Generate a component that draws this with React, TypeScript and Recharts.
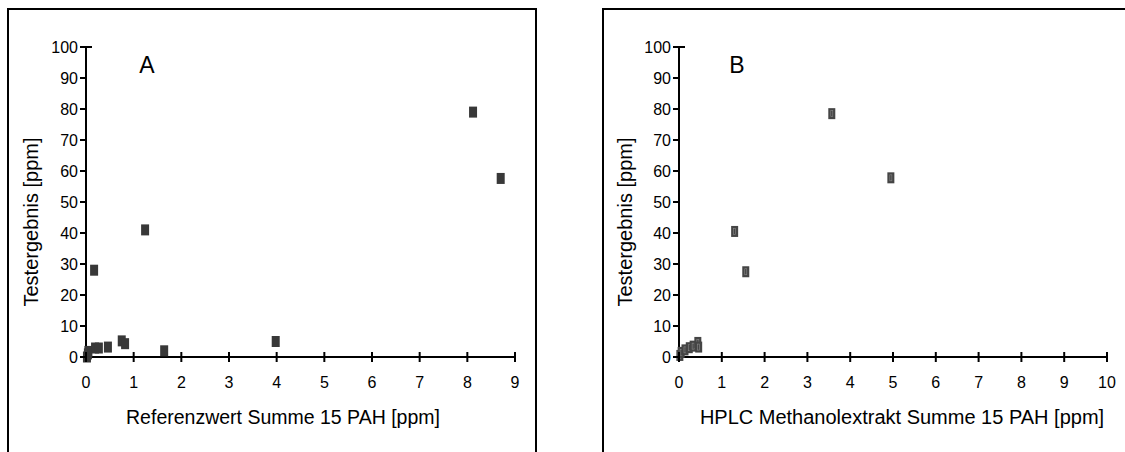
import { ScatterChart, Scatter, XAxis, YAxis } from 'recharts';

// Panel A: Referenzwert vs Testergebnis
const refX = [0.02, 0.04, 0.05, 0.19, 0.27, 0.46, 0.75, 0.82, 1.64, 3.98, 0.17, 1.24, 8.12, 8.7];
const refY = [0, 1.0, 1.8, 2.9, 2.9, 3.2, 5.2, 4.3, 2.0, 5.0, 28, 41, 79, 57.6];

// Panel B: HPLC Methanolextrakt vs Testergebnis
const hplcX = [0.02, 0.05, 0.14, 0.24, 0.33, 0.44, 0.46, 1.3, 1.56, 3.57, 4.95];
const hplcY = [0.5, 1.5, 2.3, 3.0, 3.5, 4.7, 3.2, 40.5, 27.5, 78.5, 57.8];

const yTicks = [0, 10, 20, 30, 40, 50, 60, 70, 80, 90, 100];
const xTicksA = [0, 1, 2, 3, 4, 5, 6, 7, 8, 9];
const xTicksB = [0, 1, 2, 3, 4, 5, 6, 7, 8, 9, 10];

const FONT = '"Liberation Sans", Arial, sans-serif';

const toPoints = (xs: number[], ys: number[]) => xs.map((x, i) => ({ x, y: ys[i] }));

const XTick = (props: any) => {
  const { x, y, payload } = props;
  return (
    <g>
      <line x1={x} x2={x} y1={y - 5} y2={y + 5} stroke="#000" strokeWidth={2} />
      <text x={x} y={y + 31} textAnchor="middle" fontSize={16} fontFamily={FONT} fill="#000">
        {payload.value}
      </text>
    </g>
  );
};

const YTick = (props: any) => {
  const { x, y, payload } = props;
  const top = payload.value === 100;
  return (
    <g>
      <line x1={x - 6} x2={top ? x + 6 : x} y1={y} y2={y} stroke="#000" strokeWidth={2} />
      <text x={x - 8} y={y + 6} textAnchor="end" fontSize={16} fontFamily={FONT} fill="#000">
        {payload.value}
      </text>
    </g>
  );
};

const SquareA = (props: any) => (
  <rect x={props.cx - 4} y={props.cy - 5.5} width={8} height={11} fill="#383838" />
);

const SquareB = (props: any) => (
  <g>
    <rect x={props.cx - 3.5} y={props.cy - 5.5} width={7} height={11} fill="#454545" />
    <rect x={props.cx - 1} y={props.cy - 3} width={2} height={6} fill="none" stroke="#8a8a8a" strokeWidth={0.6} />
  </g>
);

const Panel = ({
  left, plotLeft, plotRight, xMax, xTicks, data, shape, letter, letterX, xTitle, xTitleCenter, xTitleSize, yTitleX,
}: any) => (
  <div style={{ position: 'absolute', left, top: 0, width: 560, height: 452 }}>
    <ScatterChart
      width={560}
      height={452}
      margin={{ top: 47, left: 0, right: 560 - plotRight, bottom: 0 }}
    >
      <XAxis
        type="number"
        dataKey="x"
        domain={[0, xMax]}
        ticks={xTicks}
        height={95}
        tickSize={0}
        tickMargin={0}
        tickLine={false}
        axisLine={{ stroke: '#000', strokeWidth: 2 }}
        tick={<XTick />}
        interval={0}
      />
      <YAxis
        type="number"
        dataKey="y"
        domain={[0, 100]}
        ticks={yTicks}
        width={plotLeft}
        tickSize={0}
        tickMargin={0}
        tickLine={false}
        axisLine={{ stroke: '#000', strokeWidth: 2 }}
        tick={<YTick />}
        interval={0}
      />
      <Scatter data={data} shape={shape} isAnimationActive={false} />
    </ScatterChart>
    <div style={{ position: 'absolute', left: letterX - 20, width: 40, top: 52, textAlign: 'center', fontSize: 23, fontFamily: FONT }}>
      {letter}
    </div>
    <div style={{ position: 'absolute', left: xTitleCenter - 250, width: 500, top: 406, textAlign: 'center', fontSize: xTitleSize, fontFamily: FONT, whiteSpace: 'nowrap' }}>
      {xTitle}
    </div>
    <div
      style={{
        position: 'absolute', left: yTitleX - 150, top: 222 - 12, width: 300, height: 24, lineHeight: '24px',
        textAlign: 'center', fontSize: 20, fontFamily: FONT, transform: 'rotate(-90deg)', whiteSpace: 'nowrap',
      }}
    >
      Testergebnis [ppm]
    </div>
  </div>
);

export default function App() {
  return (
    <div style={{ position: 'absolute', left: 0, top: 0, width: 1125, height: 452, overflow: 'hidden', background: '#fff' }}>
      <div style={{ position: 'absolute', left: 7, top: 8, width: 526, height: 500, border: '2px solid #000' }} />
      <div style={{ position: 'absolute', left: 602, top: 8, width: 600, height: 500, border: '2px solid #000' }} />
      <Panel
        left={0}
        plotLeft={86}
        plotRight={515}
        xMax={9}
        xTicks={xTicksA}
        data={toPoints(refX, refY)}
        shape={SquareA}
        letter="A"
        letterX={147}
        xTitle="Referenzwert Summe 15 PAH [ppm]"
        xTitleCenter={283}
        xTitleSize={19.5}
        yTitleX={31}
      />
      <Panel
        left={565}
        plotLeft={679 - 565}
        plotRight={1107 - 565}
        xMax={10}
        xTicks={xTicksB}
        data={toPoints(hplcX, hplcY)}
        shape={SquareB}
        letter="B"
        letterX={737 - 565}
        xTitle="HPLC Methanolextrakt Summe 15 PAH [ppm]"
        xTitleCenter={902 - 565}
        xTitleSize={20}
        yTitleX={625 - 565}
      />
    </div>
  );
}
